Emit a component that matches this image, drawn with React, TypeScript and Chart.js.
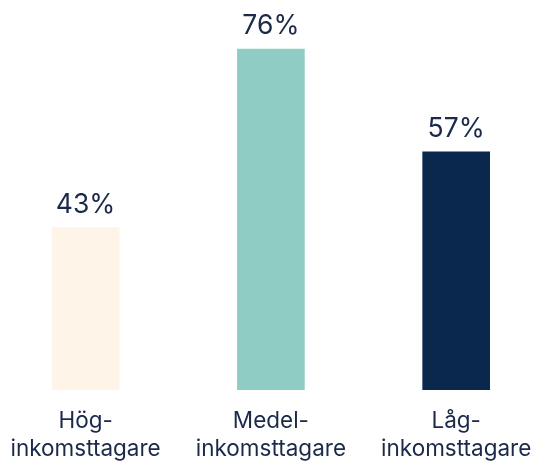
import React, { useEffect, useRef } from "react";
import { Chart, registerables } from "chart.js";

Chart.register(...registerables);

const categories: string[][] = [
  ["Hög-", "inkomsttagare"],
  ["Medel-", "inkomsttagare"],
  ["Låg-", "inkomsttagare"],
];
const values: number[] = [43, 76, 57];
const valueLabels: string[] = ["43%", "76%", "57%"];
const barColors: string[] = ["#FEF4E8", "#8FCDC4", "#0A274E"];
const textColor = "#1B2A4A";
const fontFamily = "Inter, 'Noto Sans', sans-serif";

const valueLabelPlugin = {
  id: "valueLabels",
  afterDatasetsDraw(chart: any) {
    const ctx = chart.ctx;
    const meta = chart.getDatasetMeta(0);
    ctx.save();
    ctx.fillStyle = textColor;
    ctx.font = `26.5px ${fontFamily}`;
    ctx.textAlign = "center";
    ctx.textBaseline = "alphabetic";
    meta.data.forEach((bar: any, i: number) => {
      ctx.fillText(valueLabels[i], bar.x, bar.y - 15);
    });
    ctx.restore();
  },
};

export default function App() {
  const ref = useRef<HTMLCanvasElement | null>(null);
  useEffect(() => {
    document.body.style.margin = "0";
    if (!ref.current) return;
    const chart = new Chart(ref.current, {
      type: "bar",
      data: {
        datasets: [
          {
            data: values.map((v, i) => ({ x: i, y: v })),
            backgroundColor: barColors,
            borderWidth: 0,
            barThickness: 67,
          },
        ],
      },
      options: {
        animation: false,
        responsive: true,
        maintainAspectRatio: false,
        layout: { padding: 0 },
        plugins: {
          legend: { display: false },
          tooltip: { enabled: false },
        },
        scales: {
          x: {
            type: "linear",
            offset: false,
            min: -0.462,
            max: 2.42,
            grid: { display: false, drawTicks: false },
            border: { display: false },
            afterBuildTicks: (scale: any) => {
              scale.ticks = [{ value: 0 }, { value: 1 }, { value: 2 }];
            },
            afterFit: (scale: any) => {
              scale.height = 76;
              scale.paddingLeft = 0;
              scale.paddingRight = 0;
            },
            ticks: {
              autoSkip: false,
              maxRotation: 0,
              padding: 17,
              color: textColor,
              font: { family: fontFamily, size: 22.5, lineHeight: 1.25 },
              callback: (v: any) => categories[Number(v)] ?? "",
            },
          },
          y: {
            display: false,
            min: 13,
            max: 85.05,
          },
        },
      },
      plugins: [valueLabelPlugin],
    });
    return () => chart.destroy();
  }, []);
  return (
    <div style={{ width: 534, height: 466, position: "relative" }}>
      <canvas ref={ref} />
    </div>
  );
}
